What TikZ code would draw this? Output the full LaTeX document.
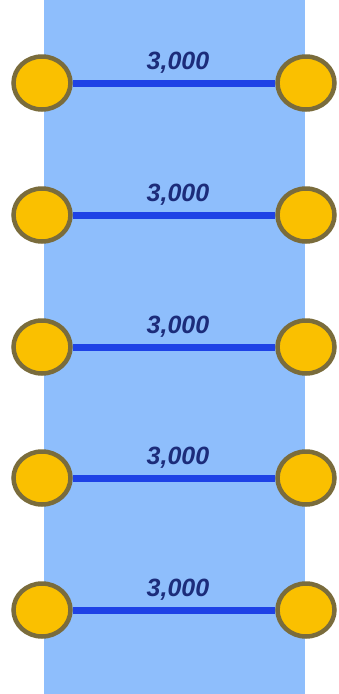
\documentclass[tikz,border=0pt]{standalone}
\usepackage{fontspec}
\setmainfont{Liberation Sans}
\usetikzlibrary{shapes.geometric}
\definecolor{bandblue}{RGB}{142,190,252}
\definecolor{linkblue}{RGB}{30,66,230}
\definecolor{nodegold}{RGB}{250,192,0}
\definecolor{nodeedge}{RGB}{122,108,60}
\definecolor{labelnavy}{RGB}{28,44,122}
\tikzset{
  joint/.style={ellipse, draw=nodeedge, fill=nodegold, line width=4.5pt,
    minimum width=57pt, minimum height=53pt, inner sep=0pt},
  link/.style={draw=linkblue, line width=7pt},
  span/.style={font=\fontsize{25}{25}\selectfont\bfseries\itshape,
    text=labelnavy, anchor=base, inner sep=0pt}
}
\begin{document}
\begin{tikzpicture}[x=1pt,y=-1pt]
  \useasboundingbox (0,0) rectangle (339,694);
  \fill[bandblue] (44,0) rectangle (305,694);
  \foreach \i/\y in {1/83,2/215,3/347,4/478,5/610}{
    \node[joint] (l\i) at (42,\y) {};
    \node[joint] (r\i) at (306,\y) {};
    \draw[link] (l\i) -- (r\i);
    \node[span] (t\i) at (178,\y-14) {3,000};
  }
\end{tikzpicture}
\end{document}
